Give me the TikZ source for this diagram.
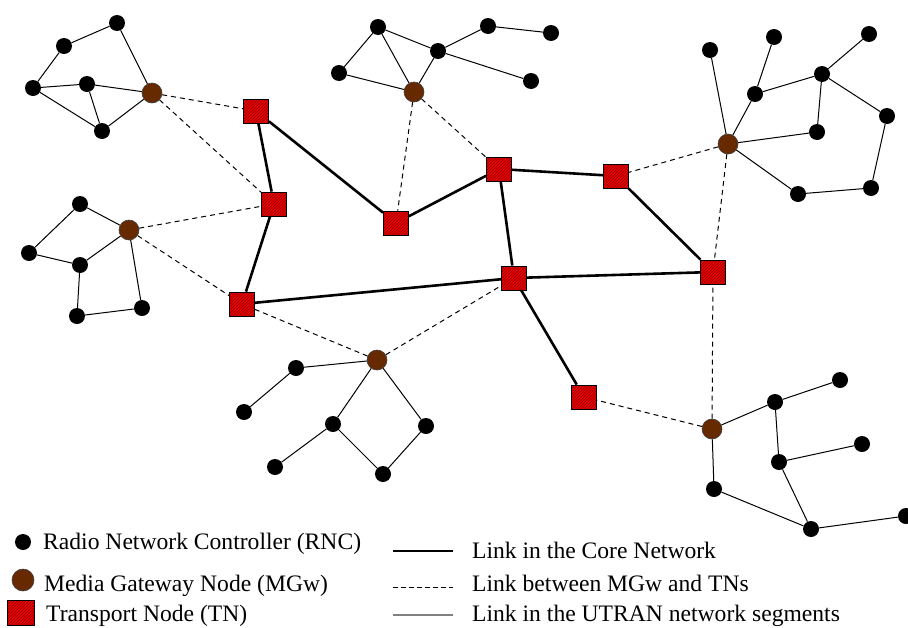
\documentclass[tikz,border=0pt]{standalone}
\usepackage{fontspec}
\setmainfont{Liberation Serif}
\usetikzlibrary{patterns}
\definecolor{MG}{RGB}{102,41,0}
\definecolor{TN}{RGB}{235,0,0}

\begin{document}
\begin{tikzpicture}[x=1pt, y=-1pt,
    rnc/.style={circle, fill=black, inner sep=0pt, minimum size=16pt},
    mgw/.style={circle, fill=MG, draw=black!75, line width=0.6pt, inner sep=0pt, minimum size=20pt},
    tn/.style={rectangle, draw=black, line width=0.8pt, preaction={fill=TN}, pattern=north east lines,
      pattern color=red!55!black, inner sep=0pt, minimum width=25pt, minimum height=24pt},
    core/.style={line width=2.6pt},
    gwlink/.style={line width=1pt, dash pattern=on 5pt off 4pt},
    utran/.style={line width=1pt},
    lbl/.style={anchor=base west, inner sep=0pt, font=\fontsize{23.6}{28}\selectfont}]
  \useasboundingbox (0,0) rectangle (908,627);

  % transport nodes
  \node[tn] (t1) at (256,111) {}; \node[tn] (t2) at (274,204) {};
  \node[tn] (t3) at (499,169) {}; \node[tn] (t4) at (396,223) {};
  \node[tn] (t5) at (616,176) {}; \node[tn] (t6) at (514,278) {};
  \node[tn] (t7) at (713,272) {}; \node[tn] (t8) at (242,304) {};
  \node[tn] (t9) at (584,397) {};

  % media gateways
  \node[mgw] (m1) at (152,93) {};  \node[mgw] (m2) at (414,92) {};
  \node[mgw] (m3) at (728,144) {}; \node[mgw] (m4) at (129,230) {};
  \node[mgw] (m5) at (377,360) {}; \node[mgw] (m6) at (712,429) {};

  % RNCs
  \node[rnc] (a1) at (117,23) {};  \node[rnc] (a2) at (64,46) {};
  \node[rnc] (a3) at (33,88) {};   \node[rnc] (a4) at (87,84) {};
  \node[rnc] (a5) at (102,131) {};
  \node[rnc] (b1) at (378,27) {};  \node[rnc] (b2) at (339,73) {};
  \node[rnc] (b3) at (438,51) {};  \node[rnc] (b4) at (488,26) {};
  \node[rnc] (b5) at (551,33) {};  \node[rnc] (b6) at (531,81) {};
  \node[rnc] (c1) at (710,50) {};  \node[rnc] (c2) at (774,37) {};
  \node[rnc] (c3) at (869,34) {};  \node[rnc] (c4) at (755,94) {};
  \node[rnc] (c5) at (822,74) {};  \node[rnc] (c6) at (887,116) {};
  \node[rnc] (c7) at (817,132) {}; \node[rnc] (c8) at (798,194) {};
  \node[rnc] (c9) at (871,188) {};
  \node[rnc] (d1) at (80,204) {};  \node[rnc] (d2) at (29,253) {};
  \node[rnc] (d3) at (80,265) {};  \node[rnc] (d4) at (77,316) {};
  \node[rnc] (d5) at (142,308) {};
  \node[rnc] (e1) at (296,368) {}; \node[rnc] (e2) at (244,412) {};
  \node[rnc] (e3) at (333,424) {}; \node[rnc] (e4) at (426,426) {};
  \node[rnc] (e5) at (275,467) {}; \node[rnc] (e6) at (383,474) {};
  \node[rnc] (f1) at (775,402) {}; \node[rnc] (f2) at (840,380) {};
  \node[rnc] (f3) at (779,462) {}; \node[rnc] (f4) at (862,444) {};
  \node[rnc] (f5) at (714,489) {}; \node[rnc] (f6) at (811,529) {};
  \node[rnc] (f7) at (906,516) {};

  % core network
  \draw[core] (t1)--(t2); \draw[core] (t1)--(t4); \draw[core] (t2)--(t8);
  \draw[core] (t4)--(t3); \draw[core] (t3)--(t5); \draw[core] (t3)--(t6);
  \draw[core] (t5)--(t7); \draw[core] (t8)--(t6); \draw[core] (t6)--(t7);
  \draw[core] (t6)--(t9);

  % MGw to TN
  \draw[gwlink] (m1)--(t1); \draw[gwlink] (m1)--(t2); \draw[gwlink] (m2)--(t4);
  \draw[gwlink] (m2)--(t3); \draw[gwlink] (m3)--(t5); \draw[gwlink] (m3)--(t7);
  \draw[gwlink] (m4)--(t2); \draw[gwlink] (m4)--(t8); \draw[gwlink] (m5)--(t8);
  \draw[gwlink] (m5)--(t6); \draw[gwlink] (m6)--(t9); \draw[gwlink] (m6)--(t7);

  % UTRAN segments
  \draw[utran] (a2)--(a1)--(m1)--(a4)--(a3)--(a2); \draw[utran] (a3)--(a5)--(m1); \draw[utran] (a4)--(a5);
  \draw[utran] (b3)--(b1)--(b2)--(m2)--(b1); \draw[utran] (m2)--(b3)--(b4)--(b5); \draw[utran] (b3)--(b6);
  \draw[utran] (c1)--(m3)--(c4)--(c2); \draw[utran] (c4)--(c5)--(c3); \draw[utran] (c5)--(c7)--(m3);
  \draw[utran] (c5)--(c6)--(c9)--(c8)--(m3);
  \draw[utran] (m4)--(d1)--(d2)--(d3)--(m4); \draw[utran] (d3)--(d4)--(d5)--(m4);
  \draw[utran] (e2)--(e1)--(m5)--(e3)--(e5); \draw[utran] (e3)--(e6)--(e4)--(m5);
  \draw[utran] (f2)--(f1)--(m6)--(f5)--(f6)--(f7); \draw[utran] (f1)--(f3)--(f6); \draw[utran] (f3)--(f4);

  % legend
  \node[rnc] (kr) at (23,542) {};
  \node[lbl] (krt) at (43,549) {Radio Network Controller (RNC)};
  \node[mgw, minimum size=22pt] (km) at (23,580) {};
  \node[lbl] (kmt) at (44,591) {Media Gateway Node (MGw)};
  \node[tn, minimum width=27pt, minimum height=25pt] (kt) at (21,613) {};
  \node[lbl] (ktt) at (46,621) {Transport Node (TN)};
  \coordinate (kc1) at (393,551); \coordinate (kc2) at (453,551);
  \coordinate (kg1) at (393,587); \coordinate (kg2) at (453,587);
  \coordinate (ku1) at (393,615); \coordinate (ku2) at (453,615);
  \draw[core] (kc1)--(kc2); \draw[line width=1pt, dash pattern=on 4.5pt off 3.5pt] (kg1)--(kg2);
  \draw[utran, gray, line width=1.5pt] (ku1)--(ku2);
  \node[lbl] (kct) at (472,558) {Link in the Core Network};
  \node[lbl] (kgt) at (472,591) {Link between MGw and TNs};
  \node[lbl] (kut) at (472,621) {Link in the UTRAN network segments};
\end{tikzpicture}
\end{document}
